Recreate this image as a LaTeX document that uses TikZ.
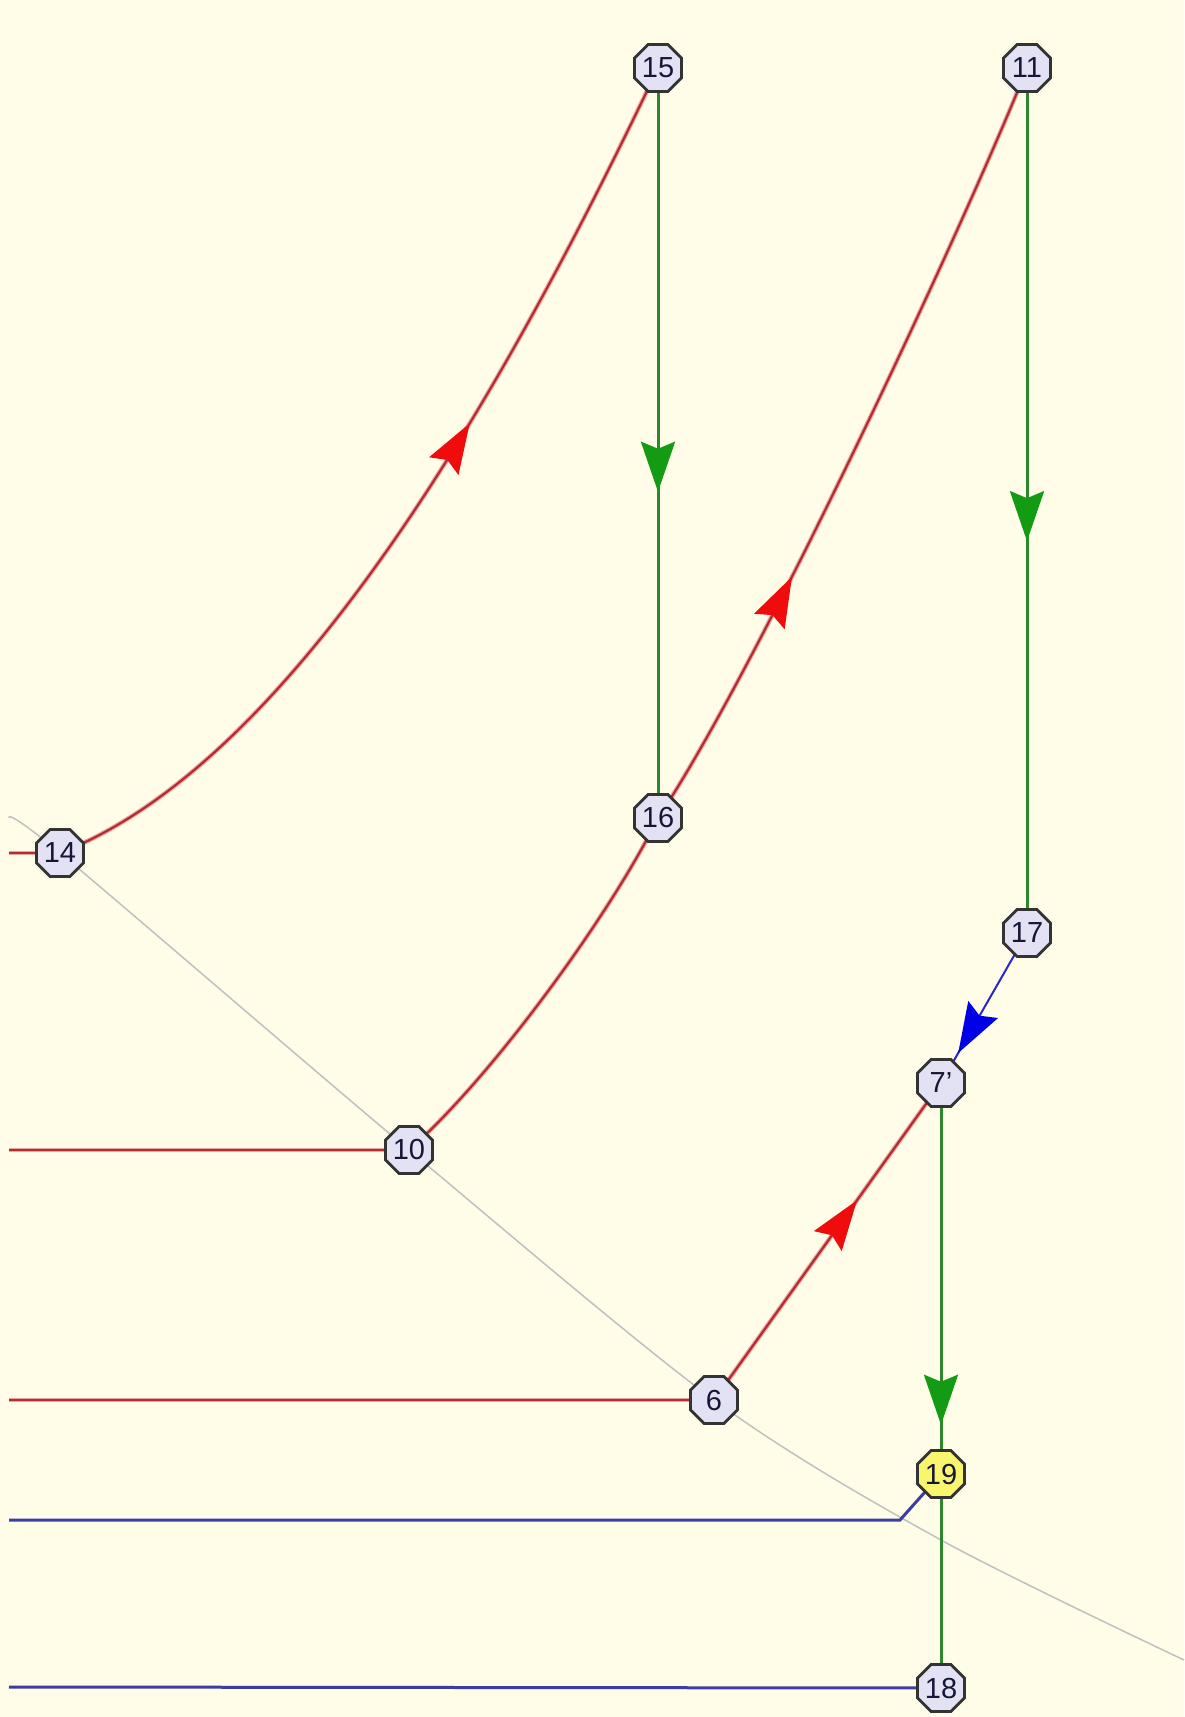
\documentclass[tikz,border=0pt]{standalone}
\usepackage{fontspec}
\setmainfont{Liberation Sans}
\usetikzlibrary{shapes.geometric,arrows.meta,decorations.markings,backgrounds}
\definecolor{bgc}{RGB}{255,253,232}
\definecolor{nodefill}{RGB}{226,226,244}
\definecolor{nodeyel}{RGB}{250,245,110}
\definecolor{navy}{RGB}{22,22,55}
\definecolor{redline}{RGB}{180,45,45}
\definecolor{redhalo}{RGB}{236,165,165}
\definecolor{redarr}{RGB}{240,12,12}
\definecolor{grnline}{RGB}{45,135,45}
\definecolor{grnarr}{RGB}{20,155,20}
\definecolor{bluline}{RGB}{60,60,165}
\definecolor{blu2}{RGB}{40,40,205}
\definecolor{bluarr}{RGB}{0,0,230}
\definecolor{grayc}{RGB}{192,192,192}
\begin{document}
\begin{tikzpicture}[x=1pt,y=-1pt,
  st/.style={regular polygon, regular polygon sides=8, minimum size=51pt, inner sep=0pt,
    draw=black!80, line width=2.8pt, fill=nodefill, text=navy,
    font=\fontsize{29}{29}\selectfont},
  redl/.style={draw=redline, line width=2.2pt,
    preaction={draw=redhalo, line width=4.5pt}},
  grnl/.style={draw=grnline, line width=3pt},
  blul/.style={draw=bluline, line width=3pt},
  blul2/.style={draw=blu2, line width=2pt},
  grayl/.style={draw=grayc, line width=1.5pt},
  midarr/.style 2 args={postaction={decorate}, decoration={markings,
    mark=at position #1 with {\arrow{Stealth[length=50pt,width=34pt,inset=7pt,color=#2]}}}}
]
\useasboundingbox (0,0) rectangle (1184,1717);
% nodes
\node[st] (n15) at (658,68) {15};
\node[st] (n11) at (1027,68) {11};
\node[st] (n14) at (60,853) {14};
\node[st] (n16) at (658,818) {16};
\node[st] (n17) at (1027,933) {17};
\node[st] (n7) at (941,1083) {7'};
\node[st] (n10) at (409,1150) {10};
\node[st] (n6) at (714,1400) {6};
\node[st, fill=nodeyel] (n19) at (941,1474) {19};
\node[st] (n18) at (941,1688) {18};
% free ends
\coordinate (g0) at (9,818);
\coordinate (g1) at (941,1540);
\coordinate (g2) at (1184,1660);
\coordinate (L14) at (9,853);
\coordinate (L10) at (9,1150);
\coordinate (L6) at (9,1400);
\coordinate (Lb1) at (9,1520);
\coordinate (Cb1) at (900,1520);
\coordinate (Lb2) at (9,1687);
\begin{scope}[on background layer]
\fill[bgc] (0,0) rectangle (1184,1717);
% saturation curve
\draw[grayl] plot[smooth] coordinates {(g0) (n14.center) (n10.center) (n6.center) (g1) (g2)};
% red horizontals
\draw[redl] (L14) -- (n14.center);
\draw[redl] (L10) -- (n10.center);
\draw[redl] (L6) -- (n6.center);
% blue horizontals
\draw[blul] (Lb1) -- (Cb1) -- (n19.center);
\draw[blul] (Lb2) -- (n18.center);
% red curves
\draw[redl, midarr={0.6}{redarr}] (n14.center) .. controls (300,760) and (515,369) .. (n15.center);
\draw[redl] (n10.center) .. controls (489,1080) and (608,919) .. (n16.center);
\draw[redl, midarr={0.33}{redarr}] (n16.center) .. controls (758,669) and (967,219) .. (n11.center);
\draw[redl, midarr={0.63}{redarr}] (n6.center) -- (n7.center);
% green verticals
\draw[grnl, midarr={0.565}{grnarr}] (n15.center) -- (n16.center);
\draw[grnl, midarr={0.547}{grnarr}] (n11.center) -- (n17.center);
\draw[grnl, midarr={0.874}{grnarr}] (n7.center) -- (n19.center);
\draw[grnl] (n19.center) -- (n18.center);
% blue arrow
\draw[blul2, midarr={0.8}{bluarr}] (n17.center) -- (n7.center);
\end{scope}
\end{tikzpicture}
\end{document}
